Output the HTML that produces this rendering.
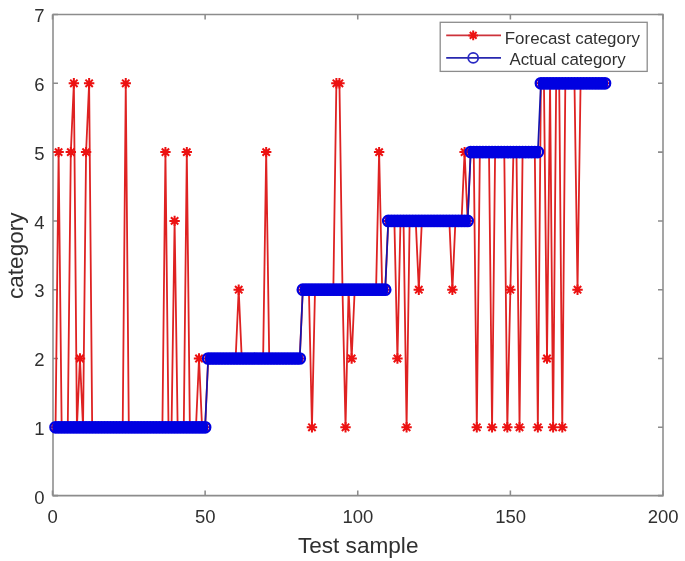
<!DOCTYPE html>
<html><head><meta charset="utf-8"><style>
html,body{margin:0;padding:0;background:#fff;}
svg{display:block;}
text{font-family:"Liberation Sans",sans-serif;fill:#303030;}
</style></head><body>
<svg width="685" height="561" viewBox="0 0 685 561" style="will-change:transform">
<rect width="685" height="561" fill="#fff"/>
<g fill="none" stroke="#8c8c8c" stroke-width="1.55">
<path d="M53.0 14.5H663.0V495.6H53.0Z"/>
<path d="M52.5 495.6V490.6M52.5 14.5V19.5M205.12 495.6V490.6M205.12 14.5V19.5M357.75 495.6V490.6M357.75 14.5V19.5M510.38 495.6V490.6M510.38 14.5V19.5M663 495.6V490.6M663 14.5V19.5M53 495.6H58M663 495.6H658M53 427.3H58M663 427.3H658M53 358.5H58M663 358.5H658M53 289.7H58M663 289.7H658M53 220.9H58M663 220.9H658M53 152.1H58M663 152.1H658M53 83.3H58M663 83.3H658M53 14.5H58M663 14.5H658"/>
</g>
<g font-size="18.5"><text x="52.7" y="523" text-anchor="middle">0</text><text x="205.32" y="523" text-anchor="middle">50</text><text x="357.95" y="523" text-anchor="middle">100</text><text x="510.58" y="523" text-anchor="middle">150</text><text x="663.2" y="523" text-anchor="middle">200</text><text x="44.5" y="504" text-anchor="end">0</text><text x="44.5" y="435" text-anchor="end">1</text><text x="44.5" y="366" text-anchor="end">2</text><text x="44.5" y="297" text-anchor="end">3</text><text x="44.5" y="229" text-anchor="end">4</text><text x="44.5" y="160" text-anchor="end">5</text><text x="44.5" y="91" text-anchor="end">6</text><text x="44.5" y="22" text-anchor="end">7</text></g>
<text x="358.2" y="553.4" font-size="22.6" text-anchor="middle">Test sample</text>
<text transform="translate(23.3 255.7) rotate(-90)" font-size="22.6" text-anchor="middle">category</text>
<polyline points="55.55,427.3 58.61,152.1 61.66,427.3 64.71,427.3 67.76,427.3 70.81,152.1 73.87,83.3 76.92,427.3 79.97,358.5 83.03,427.3 86.08,152.1 89.13,83.3 92.18,427.3 95.23,427.3 98.29,427.3 101.34,427.3 104.39,427.3 107.45,427.3 110.5,427.3 113.55,427.3 116.6,427.3 119.66,427.3 122.71,427.3 125.76,83.3 128.81,427.3 131.87,427.3 134.92,427.3 137.97,427.3 141.02,427.3 144.07,427.3 147.13,427.3 150.18,427.3 153.23,427.3 156.29,427.3 159.34,427.3 162.39,427.3 165.44,152.1 168.5,427.3 171.55,427.3 174.6,220.9 177.65,427.3 180.71,427.3 183.76,427.3 186.81,152.1 189.86,427.3 192.92,427.3 195.97,427.3 199.02,358.5 202.07,427.3 205.12,427.3 208.18,358.5 211.23,358.5 214.28,358.5 217.34,358.5 220.39,358.5 223.44,358.5 226.49,358.5 229.55,358.5 232.6,358.5 235.65,358.5 238.7,289.7 241.76,358.5 244.81,358.5 247.86,358.5 250.91,358.5 253.97,358.5 257.02,358.5 260.07,358.5 263.12,358.5 266.18,152.1 269.23,358.5 272.28,358.5 275.33,358.5 278.38,358.5 281.44,358.5 284.49,358.5 287.54,358.5 290.6,358.5 293.65,358.5 296.7,358.5 299.75,358.5 302.81,289.7 305.86,289.7 308.91,289.7 311.96,427.3 315.02,289.7 318.07,289.7 321.12,289.7 324.17,289.7 327.23,289.7 330.28,289.7 333.33,289.7 336.38,83.3 339.44,83.3 342.49,289.7 345.54,427.3 348.59,289.7 351.65,358.5 354.7,289.7 357.75,289.7 360.8,289.7 363.86,289.7 366.91,289.7 369.96,289.7 373.01,289.7 376.06,289.7 379.12,152.1 382.17,289.7 385.22,289.7 388.28,220.9 391.33,220.9 394.38,220.9 397.43,358.5 400.49,220.9 403.54,220.9 406.59,427.3 409.64,220.9 412.7,220.9 415.75,220.9 418.8,289.7 421.85,220.9 424.91,220.9 427.96,220.9 431.01,220.9 434.06,220.9 437.12,220.9 440.17,220.9 443.22,220.9 446.27,220.9 449.33,220.9 452.38,289.7 455.43,220.9 458.48,220.9 461.54,220.9 464.59,152.1 467.64,220.9 470.69,152.1 473.75,152.1 476.8,427.3 479.85,152.1 482.9,152.1 485.96,152.1 489.01,152.1 492.06,427.3 495.11,152.1 498.17,152.1 501.22,152.1 504.27,152.1 507.32,427.3 510.38,289.7 513.43,152.1 516.48,152.1 519.53,427.3 522.59,152.1 525.64,152.1 528.69,152.1 531.74,152.1 534.8,152.1 537.85,427.3 540.9,83.3 543.95,83.3 547.01,358.5 550.06,83.3 553.11,427.3 556.16,83.3 559.22,83.3 562.27,427.3 565.32,83.3 568.37,83.3 571.43,83.3 574.48,83.3 577.53,289.7 580.58,83.3 583.63,83.3 586.69,83.3 589.74,83.3 592.79,83.3 595.85,83.3 598.9,83.3 601.95,83.3 605,83.3" fill="none" stroke="rgb(222,34,34)" stroke-width="1.8" stroke-linejoin="round"/>
<path d="M50.35 427.3H60.75M55.55 422.1V432.5M51.88 423.62L59.23 430.98M51.88 430.98L59.23 423.62M53.41 152.1H63.81M58.61 146.9V157.3M54.93 148.42L62.28 155.78M54.93 155.78L62.28 148.42M56.46 427.3H66.86M61.66 422.1V432.5M57.98 423.62L65.33 430.98M57.98 430.98L65.33 423.62M59.51 427.3H69.91M64.71 422.1V432.5M61.03 423.62L68.39 430.98M61.03 430.98L68.39 423.62M62.56 427.3H72.96M67.76 422.1V432.5M64.09 423.62L71.44 430.98M64.09 430.98L71.44 423.62M65.61 152.1H76.02M70.81 146.9V157.3M67.14 148.42L74.49 155.78M67.14 155.78L74.49 148.42M68.67 83.3H79.07M73.87 78.1V88.5M70.19 79.62L77.54 86.98M70.19 86.98L77.54 79.62M71.72 427.3H82.12M76.92 422.1V432.5M73.24 423.62L80.6 430.98M73.24 430.98L80.6 423.62M74.77 358.5H85.17M79.97 353.3V363.7M76.3 354.82L83.65 362.18M76.3 362.18L83.65 354.82M77.83 427.3H88.23M83.03 422.1V432.5M79.35 423.62L86.7 430.98M79.35 430.98L86.7 423.62M80.88 152.1H91.28M86.08 146.9V157.3M82.4 148.42L89.75 155.78M82.4 155.78L89.75 148.42M83.93 83.3H94.33M89.13 78.1V88.5M85.45 79.62L92.81 86.98M85.45 86.98L92.81 79.62M86.98 427.3H97.38M92.18 422.1V432.5M88.51 423.62L95.86 430.98M88.51 430.98L95.86 423.62M90.03 427.3H100.44M95.23 422.1V432.5M91.56 423.62L98.91 430.98M91.56 430.98L98.91 423.62M93.09 427.3H103.49M98.29 422.1V432.5M94.61 423.62L101.96 430.98M94.61 430.98L101.96 423.62M96.14 427.3H106.54M101.34 422.1V432.5M97.66 423.62L105.02 430.98M97.66 430.98L105.02 423.62M99.19 427.3H109.59M104.39 422.1V432.5M100.72 423.62L108.07 430.98M100.72 430.98L108.07 423.62M102.25 427.3H112.65M107.45 422.1V432.5M103.77 423.62L111.12 430.98M103.77 430.98L111.12 423.62M105.3 427.3H115.7M110.5 422.1V432.5M106.82 423.62L114.17 430.98M106.82 430.98L114.17 423.62M108.35 427.3H118.75M113.55 422.1V432.5M109.87 423.62L117.23 430.98M109.87 430.98L117.23 423.62M111.4 427.3H121.8M116.6 422.1V432.5M112.93 423.62L120.28 430.98M112.93 430.98L120.28 423.62M114.45 427.3H124.86M119.66 422.1V432.5M115.98 423.62L123.33 430.98M115.98 430.98L123.33 423.62M117.51 427.3H127.91M122.71 422.1V432.5M119.03 423.62L126.38 430.98M119.03 430.98L126.38 423.62M120.56 83.3H130.96M125.76 78.1V88.5M122.08 79.62L129.44 86.98M122.08 86.98L129.44 79.62M123.61 427.3H134.01M128.81 422.1V432.5M125.14 423.62L132.49 430.98M125.14 430.98L132.49 423.62M126.67 427.3H137.06M131.87 422.1V432.5M128.19 423.62L135.54 430.98M128.19 430.98L135.54 423.62M129.72 427.3H140.12M134.92 422.1V432.5M131.24 423.62L138.59 430.98M131.24 430.98L138.59 423.62M132.77 427.3H143.17M137.97 422.1V432.5M134.29 423.62L141.65 430.98M134.29 430.98L141.65 423.62M135.82 427.3H146.22M141.02 422.1V432.5M137.35 423.62L144.7 430.98M137.35 430.98L144.7 423.62M138.88 427.3H149.27M144.07 422.1V432.5M140.4 423.62L147.75 430.98M140.4 430.98L147.75 423.62M141.93 427.3H152.33M147.13 422.1V432.5M143.45 423.62L150.8 430.98M143.45 430.98L150.8 423.62M144.98 427.3H155.38M150.18 422.1V432.5M146.5 423.62L153.86 430.98M146.5 430.98L153.86 423.62M148.03 427.3H158.43M153.23 422.1V432.5M149.56 423.62L156.91 430.98M149.56 430.98L156.91 423.62M151.09 427.3H161.49M156.29 422.1V432.5M152.61 423.62L159.96 430.98M152.61 430.98L159.96 423.62M154.14 427.3H164.54M159.34 422.1V432.5M155.66 423.62L163.01 430.98M155.66 430.98L163.01 423.62M157.19 427.3H167.59M162.39 422.1V432.5M158.71 423.62L166.07 430.98M158.71 430.98L166.07 423.62M160.24 152.1H170.64M165.44 146.9V157.3M161.77 148.42L169.12 155.78M161.77 155.78L169.12 148.42M163.3 427.3H173.69M168.5 422.1V432.5M164.82 423.62L172.17 430.98M164.82 430.98L172.17 423.62M166.35 427.3H176.75M171.55 422.1V432.5M167.87 423.62L175.22 430.98M167.87 430.98L175.22 423.62M169.4 220.9H179.8M174.6 215.7V226.1M170.92 217.22L178.28 224.58M170.92 224.58L178.28 217.22M172.45 427.3H182.85M177.65 422.1V432.5M173.98 423.62L181.33 430.98M173.98 430.98L181.33 423.62M175.51 427.3H185.91M180.71 422.1V432.5M177.03 423.62L184.38 430.98M177.03 430.98L184.38 423.62M178.56 427.3H188.96M183.76 422.1V432.5M180.08 423.62L187.43 430.98M180.08 430.98L187.43 423.62M181.61 152.1H192.01M186.81 146.9V157.3M183.13 148.42L190.49 155.78M183.13 155.78L190.49 148.42M184.66 427.3H195.06M189.86 422.1V432.5M186.19 423.62L193.54 430.98M186.19 430.98L193.54 423.62M187.72 427.3H198.12M192.92 422.1V432.5M189.24 423.62L196.59 430.98M189.24 430.98L196.59 423.62M190.77 427.3H201.17M195.97 422.1V432.5M192.29 423.62L199.64 430.98M192.29 430.98L199.64 423.62M193.82 358.5H204.22M199.02 353.3V363.7M195.34 354.82L202.7 362.18M195.34 362.18L202.7 354.82M196.87 427.3H207.27M202.07 422.1V432.5M198.4 423.62L205.75 430.98M198.4 430.98L205.75 423.62M199.93 427.3H210.32M205.12 422.1V432.5M201.45 423.62L208.8 430.98M201.45 430.98L208.8 423.62M202.98 358.5H213.38M208.18 353.3V363.7M204.5 354.82L211.85 362.18M204.5 362.18L211.85 354.82M206.03 358.5H216.43M211.23 353.3V363.7M207.55 354.82L214.91 362.18M207.55 362.18L214.91 354.82M209.08 358.5H219.48M214.28 353.3V363.7M210.61 354.82L217.96 362.18M210.61 362.18L217.96 354.82M212.14 358.5H222.53M217.34 353.3V363.7M213.66 354.82L221.01 362.18M213.66 362.18L221.01 354.82M215.19 358.5H225.59M220.39 353.3V363.7M216.71 354.82L224.06 362.18M216.71 362.18L224.06 354.82M218.24 358.5H228.64M223.44 353.3V363.7M219.76 354.82L227.12 362.18M219.76 362.18L227.12 354.82M221.29 358.5H231.69M226.49 353.3V363.7M222.82 354.82L230.17 362.18M222.82 362.18L230.17 354.82M224.35 358.5H234.75M229.55 353.3V363.7M225.87 354.82L233.22 362.18M225.87 362.18L233.22 354.82M227.4 358.5H237.8M232.6 353.3V363.7M228.92 354.82L236.27 362.18M228.92 362.18L236.27 354.82M230.45 358.5H240.85M235.65 353.3V363.7M231.97 354.82L239.33 362.18M231.97 362.18L239.33 354.82M233.5 289.7H243.9M238.7 284.5V294.9M235.03 286.02L242.38 293.38M235.03 293.38L242.38 286.02M236.56 358.5H246.96M241.76 353.3V363.7M238.08 354.82L245.43 362.18M238.08 362.18L245.43 354.82M239.61 358.5H250.01M244.81 353.3V363.7M241.13 354.82L248.48 362.18M241.13 362.18L248.48 354.82M242.66 358.5H253.06M247.86 353.3V363.7M244.18 354.82L251.54 362.18M244.18 362.18L251.54 354.82M245.71 358.5H256.11M250.91 353.3V363.7M247.24 354.82L254.59 362.18M247.24 362.18L254.59 354.82M248.77 358.5H259.17M253.97 353.3V363.7M250.29 354.82L257.64 362.18M250.29 362.18L257.64 354.82M251.82 358.5H262.22M257.02 353.3V363.7M253.34 354.82L260.69 362.18M253.34 362.18L260.69 354.82M254.87 358.5H265.27M260.07 353.3V363.7M256.39 354.82L263.75 362.18M256.39 362.18L263.75 354.82M257.92 358.5H268.32M263.12 353.3V363.7M259.45 354.82L266.8 362.18M259.45 362.18L266.8 354.82M260.98 152.1H271.38M266.18 146.9V157.3M262.5 148.42L269.85 155.78M262.5 155.78L269.85 148.42M264.03 358.5H274.43M269.23 353.3V363.7M265.55 354.82L272.9 362.18M265.55 362.18L272.9 354.82M267.08 358.5H277.48M272.28 353.3V363.7M268.6 354.82L275.96 362.18M268.6 362.18L275.96 354.82M270.13 358.5H280.53M275.33 353.3V363.7M271.66 354.82L279.01 362.18M271.66 362.18L279.01 354.82M273.19 358.5H283.58M278.38 353.3V363.7M274.71 354.82L282.06 362.18M274.71 362.18L282.06 354.82M276.24 358.5H286.64M281.44 353.3V363.7M277.76 354.82L285.11 362.18M277.76 362.18L285.11 354.82M279.29 358.5H289.69M284.49 353.3V363.7M280.81 354.82L288.17 362.18M280.81 362.18L288.17 354.82M282.34 358.5H292.74M287.54 353.3V363.7M283.87 354.82L291.22 362.18M283.87 362.18L291.22 354.82M285.4 358.5H295.8M290.6 353.3V363.7M286.92 354.82L294.27 362.18M286.92 362.18L294.27 354.82M288.45 358.5H298.85M293.65 353.3V363.7M289.97 354.82L297.32 362.18M289.97 362.18L297.32 354.82M291.5 358.5H301.9M296.7 353.3V363.7M293.02 354.82L300.38 362.18M293.02 362.18L300.38 354.82M294.55 358.5H304.95M299.75 353.3V363.7M296.08 354.82L303.43 362.18M296.08 362.18L303.43 354.82M297.61 289.7H308M302.81 284.5V294.9M299.13 286.02L306.48 293.38M299.13 293.38L306.48 286.02M300.66 289.7H311.06M305.86 284.5V294.9M302.18 286.02L309.53 293.38M302.18 293.38L309.53 286.02M303.71 289.7H314.11M308.91 284.5V294.9M305.23 286.02L312.59 293.38M305.23 293.38L312.59 286.02M306.76 427.3H317.16M311.96 422.1V432.5M308.29 423.62L315.64 430.98M308.29 430.98L315.64 423.62M309.82 289.7H320.22M315.02 284.5V294.9M311.34 286.02L318.69 293.38M311.34 293.38L318.69 286.02M312.87 289.7H323.27M318.07 284.5V294.9M314.39 286.02L321.74 293.38M314.39 293.38L321.74 286.02M315.92 289.7H326.32M321.12 284.5V294.9M317.44 286.02L324.8 293.38M317.44 293.38L324.8 286.02M318.97 289.7H329.37M324.17 284.5V294.9M320.5 286.02L327.85 293.38M320.5 293.38L327.85 286.02M322.03 289.7H332.43M327.23 284.5V294.9M323.55 286.02L330.9 293.38M323.55 293.38L330.9 286.02M325.08 289.7H335.48M330.28 284.5V294.9M326.6 286.02L333.95 293.38M326.6 293.38L333.95 286.02M328.13 289.7H338.53M333.33 284.5V294.9M329.65 286.02L337.01 293.38M329.65 293.38L337.01 286.02M331.18 83.3H341.58M336.38 78.1V88.5M332.71 79.62L340.06 86.98M332.71 86.98L340.06 79.62M334.24 83.3H344.63M339.44 78.1V88.5M335.76 79.62L343.11 86.98M335.76 86.98L343.11 79.62M337.29 289.7H347.69M342.49 284.5V294.9M338.81 286.02L346.16 293.38M338.81 293.38L346.16 286.02M340.34 427.3H350.74M345.54 422.1V432.5M341.86 423.62L349.22 430.98M341.86 430.98L349.22 423.62M343.39 289.7H353.79M348.59 284.5V294.9M344.92 286.02L352.27 293.38M344.92 293.38L352.27 286.02M346.45 358.5H356.85M351.65 353.3V363.7M347.97 354.82L355.32 362.18M347.97 362.18L355.32 354.82M349.5 289.7H359.9M354.7 284.5V294.9M351.02 286.02L358.37 293.38M351.02 293.38L358.37 286.02M352.55 289.7H362.95M357.75 284.5V294.9M354.07 286.02L361.43 293.38M354.07 293.38L361.43 286.02M355.6 289.7H366M360.8 284.5V294.9M357.13 286.02L364.48 293.38M357.13 293.38L364.48 286.02M358.66 289.7H369.06M363.86 284.5V294.9M360.18 286.02L367.53 293.38M360.18 293.38L367.53 286.02M361.71 289.7H372.11M366.91 284.5V294.9M363.23 286.02L370.58 293.38M363.23 293.38L370.58 286.02M364.76 289.7H375.16M369.96 284.5V294.9M366.28 286.02L373.64 293.38M366.28 293.38L373.64 286.02M367.81 289.7H378.21M373.01 284.5V294.9M369.34 286.02L376.69 293.38M369.34 293.38L376.69 286.02M370.87 289.7H381.26M376.06 284.5V294.9M372.39 286.02L379.74 293.38M372.39 293.38L379.74 286.02M373.92 152.1H384.32M379.12 146.9V157.3M375.44 148.42L382.79 155.78M375.44 155.78L382.79 148.42M376.97 289.7H387.37M382.17 284.5V294.9M378.49 286.02L385.85 293.38M378.49 293.38L385.85 286.02M380.02 289.7H390.42M385.22 284.5V294.9M381.55 286.02L388.9 293.38M381.55 293.38L388.9 286.02M383.08 220.9H393.48M388.28 215.7V226.1M384.6 217.22L391.95 224.58M384.6 224.58L391.95 217.22M386.13 220.9H396.53M391.33 215.7V226.1M387.65 217.22L395 224.58M387.65 224.58L395 217.22M389.18 220.9H399.58M394.38 215.7V226.1M390.7 217.22L398.06 224.58M390.7 224.58L398.06 217.22M392.23 358.5H402.63M397.43 353.3V363.7M393.76 354.82L401.11 362.18M393.76 362.18L401.11 354.82M395.29 220.9H405.69M400.49 215.7V226.1M396.81 217.22L404.16 224.58M396.81 224.58L404.16 217.22M398.34 220.9H408.74M403.54 215.7V226.1M399.86 217.22L407.21 224.58M399.86 224.58L407.21 217.22M401.39 427.3H411.79M406.59 422.1V432.5M402.91 423.62L410.27 430.98M402.91 430.98L410.27 423.62M404.44 220.9H414.84M409.64 215.7V226.1M405.97 217.22L413.32 224.58M405.97 224.58L413.32 217.22M407.5 220.9H417.9M412.7 215.7V226.1M409.02 217.22L416.37 224.58M409.02 224.58L416.37 217.22M410.55 220.9H420.95M415.75 215.7V226.1M412.07 217.22L419.42 224.58M412.07 224.58L419.42 217.22M413.6 289.7H424M418.8 284.5V294.9M415.12 286.02L422.48 293.38M415.12 293.38L422.48 286.02M416.65 220.9H427.05M421.85 215.7V226.1M418.18 217.22L425.53 224.58M418.18 224.58L425.53 217.22M419.71 220.9H430.11M424.91 215.7V226.1M421.23 217.22L428.58 224.58M421.23 224.58L428.58 217.22M422.76 220.9H433.16M427.96 215.7V226.1M424.28 217.22L431.63 224.58M424.28 224.58L431.63 217.22M425.81 220.9H436.21M431.01 215.7V226.1M427.33 217.22L434.69 224.58M427.33 224.58L434.69 217.22M428.86 220.9H439.26M434.06 215.7V226.1M430.39 217.22L437.74 224.58M430.39 224.58L437.74 217.22M431.92 220.9H442.31M437.12 215.7V226.1M433.44 217.22L440.79 224.58M433.44 224.58L440.79 217.22M434.97 220.9H445.37M440.17 215.7V226.1M436.49 217.22L443.84 224.58M436.49 224.58L443.84 217.22M438.02 220.9H448.42M443.22 215.7V226.1M439.54 217.22L446.9 224.58M439.54 224.58L446.9 217.22M441.07 220.9H451.47M446.27 215.7V226.1M442.6 217.22L449.95 224.58M442.6 224.58L449.95 217.22M444.13 220.9H454.53M449.33 215.7V226.1M445.65 217.22L453 224.58M445.65 224.58L453 217.22M447.18 289.7H457.58M452.38 284.5V294.9M448.7 286.02L456.05 293.38M448.7 293.38L456.05 286.02M450.23 220.9H460.63M455.43 215.7V226.1M451.75 217.22L459.11 224.58M451.75 224.58L459.11 217.22M453.28 220.9H463.68M458.48 215.7V226.1M454.81 217.22L462.16 224.58M454.81 224.58L462.16 217.22M456.34 220.9H466.74M461.54 215.7V226.1M457.86 217.22L465.21 224.58M457.86 224.58L465.21 217.22M459.39 152.1H469.79M464.59 146.9V157.3M460.91 148.42L468.26 155.78M460.91 155.78L468.26 148.42M462.44 220.9H472.84M467.64 215.7V226.1M463.96 217.22L471.32 224.58M463.96 224.58L471.32 217.22M465.49 152.1H475.89M470.69 146.9V157.3M467.02 148.42L474.37 155.78M467.02 155.78L474.37 148.42M468.55 152.1H478.94M473.75 146.9V157.3M470.07 148.42L477.42 155.78M470.07 155.78L477.42 148.42M471.6 427.3H482M476.8 422.1V432.5M473.12 423.62L480.47 430.98M473.12 430.98L480.47 423.62M474.65 152.1H485.05M479.85 146.9V157.3M476.17 148.42L483.53 155.78M476.17 155.78L483.53 148.42M477.7 152.1H488.1M482.9 146.9V157.3M479.23 148.42L486.58 155.78M479.23 155.78L486.58 148.42M480.76 152.1H491.16M485.96 146.9V157.3M482.28 148.42L489.63 155.78M482.28 155.78L489.63 148.42M483.81 152.1H494.21M489.01 146.9V157.3M485.33 148.42L492.68 155.78M485.33 155.78L492.68 148.42M486.86 427.3H497.26M492.06 422.1V432.5M488.38 423.62L495.74 430.98M488.38 430.98L495.74 423.62M489.91 152.1H500.31M495.11 146.9V157.3M491.44 148.42L498.79 155.78M491.44 155.78L498.79 148.42M492.97 152.1H503.37M498.17 146.9V157.3M494.49 148.42L501.84 155.78M494.49 155.78L501.84 148.42M496.02 152.1H506.42M501.22 146.9V157.3M497.54 148.42L504.89 155.78M497.54 155.78L504.89 148.42M499.07 152.1H509.47M504.27 146.9V157.3M500.59 148.42L507.95 155.78M500.59 155.78L507.95 148.42M502.12 427.3H512.52M507.32 422.1V432.5M503.65 423.62L511 430.98M503.65 430.98L511 423.62M505.18 289.7H515.58M510.38 284.5V294.9M506.7 286.02L514.05 293.38M506.7 293.38L514.05 286.02M508.23 152.1H518.63M513.43 146.9V157.3M509.75 148.42L517.1 155.78M509.75 155.78L517.1 148.42M511.28 152.1H521.68M516.48 146.9V157.3M512.8 148.42L520.16 155.78M512.8 155.78L520.16 148.42M514.33 427.3H524.73M519.53 422.1V432.5M515.86 423.62L523.21 430.98M515.86 430.98L523.21 423.62M517.38 152.1H527.79M522.59 146.9V157.3M518.91 148.42L526.26 155.78M518.91 155.78L526.26 148.42M520.44 152.1H530.84M525.64 146.9V157.3M521.96 148.42L529.31 155.78M521.96 155.78L529.31 148.42M523.49 152.1H533.89M528.69 146.9V157.3M525.01 148.42L532.37 155.78M525.01 155.78L532.37 148.42M526.54 152.1H536.94M531.74 146.9V157.3M528.07 148.42L535.42 155.78M528.07 155.78L535.42 148.42M529.6 152.1H540M534.8 146.9V157.3M531.12 148.42L538.47 155.78M531.12 155.78L538.47 148.42M532.65 427.3H543.05M537.85 422.1V432.5M534.17 423.62L541.52 430.98M534.17 430.98L541.52 423.62M535.7 83.3H546.1M540.9 78.1V88.5M537.22 79.62L544.58 86.98M537.22 86.98L544.58 79.62M538.75 83.3H549.15M543.95 78.1V88.5M540.28 79.62L547.63 86.98M540.28 86.98L547.63 79.62M541.81 358.5H552.21M547.01 353.3V363.7M543.33 354.82L550.68 362.18M543.33 362.18L550.68 354.82M544.86 83.3H555.26M550.06 78.1V88.5M546.38 79.62L553.73 86.98M546.38 86.98L553.73 79.62M547.91 427.3H558.31M553.11 422.1V432.5M549.43 423.62L556.79 430.98M549.43 430.98L556.79 423.62M550.96 83.3H561.36M556.16 78.1V88.5M552.49 79.62L559.84 86.98M552.49 86.98L559.84 79.62M554.01 83.3H564.42M559.22 78.1V88.5M555.54 79.62L562.89 86.98M555.54 86.98L562.89 79.62M557.07 427.3H567.47M562.27 422.1V432.5M558.59 423.62L565.94 430.98M558.59 430.98L565.94 423.62M560.12 83.3H570.52M565.32 78.1V88.5M561.64 79.62L569 86.98M561.64 86.98L569 79.62M563.17 83.3H573.57M568.37 78.1V88.5M564.7 79.62L572.05 86.98M564.7 86.98L572.05 79.62M566.23 83.3H576.63M571.43 78.1V88.5M567.75 79.62L575.1 86.98M567.75 86.98L575.1 79.62M569.28 83.3H579.68M574.48 78.1V88.5M570.8 79.62L578.15 86.98M570.8 86.98L578.15 79.62M572.33 289.7H582.73M577.53 284.5V294.9M573.85 286.02L581.21 293.38M573.85 293.38L581.21 286.02M575.38 83.3H585.78M580.58 78.1V88.5M576.91 79.62L584.26 86.98M576.91 86.98L584.26 79.62M578.43 83.3H588.84M583.63 78.1V88.5M579.96 79.62L587.31 86.98M579.96 86.98L587.31 79.62M581.49 83.3H591.89M586.69 78.1V88.5M583.01 79.62L590.36 86.98M583.01 86.98L590.36 79.62M584.54 83.3H594.94M589.74 78.1V88.5M586.06 79.62L593.42 86.98M586.06 86.98L593.42 79.62M587.59 83.3H597.99M592.79 78.1V88.5M589.12 79.62L596.47 86.98M589.12 86.98L596.47 79.62M590.64 83.3H601.05M595.85 78.1V88.5M592.17 79.62L599.52 86.98M592.17 86.98L599.52 79.62M593.7 83.3H604.1M598.9 78.1V88.5M595.22 79.62L602.57 86.98M595.22 86.98L602.57 79.62M596.75 83.3H607.15M601.95 78.1V88.5M598.27 79.62L605.63 86.98M598.27 86.98L605.63 79.62M599.8 83.3H610.2M605 78.1V88.5M601.33 79.62L608.68 86.98M601.33 86.98L608.68 79.62" fill="none" stroke="rgb(236,18,18)" stroke-width="2.0"/>
<polyline points="55.55,427.3 58.61,427.3 61.66,427.3 64.71,427.3 67.76,427.3 70.81,427.3 73.87,427.3 76.92,427.3 79.97,427.3 83.03,427.3 86.08,427.3 89.13,427.3 92.18,427.3 95.23,427.3 98.29,427.3 101.34,427.3 104.39,427.3 107.45,427.3 110.5,427.3 113.55,427.3 116.6,427.3 119.66,427.3 122.71,427.3 125.76,427.3 128.81,427.3 131.87,427.3 134.92,427.3 137.97,427.3 141.02,427.3 144.07,427.3 147.13,427.3 150.18,427.3 153.23,427.3 156.29,427.3 159.34,427.3 162.39,427.3 165.44,427.3 168.5,427.3 171.55,427.3 174.6,427.3 177.65,427.3 180.71,427.3 183.76,427.3 186.81,427.3 189.86,427.3 192.92,427.3 195.97,427.3 199.02,427.3 202.07,427.3 205.12,427.3 208.18,358.5 211.23,358.5 214.28,358.5 217.34,358.5 220.39,358.5 223.44,358.5 226.49,358.5 229.55,358.5 232.6,358.5 235.65,358.5 238.7,358.5 241.76,358.5 244.81,358.5 247.86,358.5 250.91,358.5 253.97,358.5 257.02,358.5 260.07,358.5 263.12,358.5 266.18,358.5 269.23,358.5 272.28,358.5 275.33,358.5 278.38,358.5 281.44,358.5 284.49,358.5 287.54,358.5 290.6,358.5 293.65,358.5 296.7,358.5 299.75,358.5 302.81,289.7 305.86,289.7 308.91,289.7 311.96,289.7 315.02,289.7 318.07,289.7 321.12,289.7 324.17,289.7 327.23,289.7 330.28,289.7 333.33,289.7 336.38,289.7 339.44,289.7 342.49,289.7 345.54,289.7 348.59,289.7 351.65,289.7 354.7,289.7 357.75,289.7 360.8,289.7 363.86,289.7 366.91,289.7 369.96,289.7 373.01,289.7 376.06,289.7 379.12,289.7 382.17,289.7 385.22,289.7 388.28,220.9 391.33,220.9 394.38,220.9 397.43,220.9 400.49,220.9 403.54,220.9 406.59,220.9 409.64,220.9 412.7,220.9 415.75,220.9 418.8,220.9 421.85,220.9 424.91,220.9 427.96,220.9 431.01,220.9 434.06,220.9 437.12,220.9 440.17,220.9 443.22,220.9 446.27,220.9 449.33,220.9 452.38,220.9 455.43,220.9 458.48,220.9 461.54,220.9 464.59,220.9 467.64,220.9 470.69,152.1 473.75,152.1 476.8,152.1 479.85,152.1 482.9,152.1 485.96,152.1 489.01,152.1 492.06,152.1 495.11,152.1 498.17,152.1 501.22,152.1 504.27,152.1 507.32,152.1 510.38,152.1 513.43,152.1 516.48,152.1 519.53,152.1 522.59,152.1 525.64,152.1 528.69,152.1 531.74,152.1 534.8,152.1 537.85,152.1 540.9,83.3 543.95,83.3 547.01,83.3 550.06,83.3 553.11,83.3 556.16,83.3 559.22,83.3 562.27,83.3 565.32,83.3 568.37,83.3 571.43,83.3 574.48,83.3 577.53,83.3 580.58,83.3 583.63,83.3 586.69,83.3 589.74,83.3 592.79,83.3 595.85,83.3 598.9,83.3 601.95,83.3 605,83.3" fill="none" stroke="rgb(20,20,175)" stroke-width="1.7" stroke-linejoin="round"/>
<path d="M53.55 427.3H207.12M206.18 358.5H301.75M300.81 289.7H387.22M386.28 220.9H469.64M468.69 152.1H539.85M538.9 83.3H607" stroke="rgb(0,0,225)" stroke-width="10"/>
<g fill="none" stroke="rgb(0,0,225)" stroke-width="2.3"><circle cx="55.55" cy="427.3" r="5.2"/><circle cx="58.61" cy="427.3" r="5.2"/><circle cx="61.66" cy="427.3" r="5.2"/><circle cx="64.71" cy="427.3" r="5.2"/><circle cx="67.76" cy="427.3" r="5.2"/><circle cx="70.81" cy="427.3" r="5.2"/><circle cx="73.87" cy="427.3" r="5.2"/><circle cx="76.92" cy="427.3" r="5.2"/><circle cx="79.97" cy="427.3" r="5.2"/><circle cx="83.03" cy="427.3" r="5.2"/><circle cx="86.08" cy="427.3" r="5.2"/><circle cx="89.13" cy="427.3" r="5.2"/><circle cx="92.18" cy="427.3" r="5.2"/><circle cx="95.23" cy="427.3" r="5.2"/><circle cx="98.29" cy="427.3" r="5.2"/><circle cx="101.34" cy="427.3" r="5.2"/><circle cx="104.39" cy="427.3" r="5.2"/><circle cx="107.45" cy="427.3" r="5.2"/><circle cx="110.5" cy="427.3" r="5.2"/><circle cx="113.55" cy="427.3" r="5.2"/><circle cx="116.6" cy="427.3" r="5.2"/><circle cx="119.66" cy="427.3" r="5.2"/><circle cx="122.71" cy="427.3" r="5.2"/><circle cx="125.76" cy="427.3" r="5.2"/><circle cx="128.81" cy="427.3" r="5.2"/><circle cx="131.87" cy="427.3" r="5.2"/><circle cx="134.92" cy="427.3" r="5.2"/><circle cx="137.97" cy="427.3" r="5.2"/><circle cx="141.02" cy="427.3" r="5.2"/><circle cx="144.07" cy="427.3" r="5.2"/><circle cx="147.13" cy="427.3" r="5.2"/><circle cx="150.18" cy="427.3" r="5.2"/><circle cx="153.23" cy="427.3" r="5.2"/><circle cx="156.29" cy="427.3" r="5.2"/><circle cx="159.34" cy="427.3" r="5.2"/><circle cx="162.39" cy="427.3" r="5.2"/><circle cx="165.44" cy="427.3" r="5.2"/><circle cx="168.5" cy="427.3" r="5.2"/><circle cx="171.55" cy="427.3" r="5.2"/><circle cx="174.6" cy="427.3" r="5.2"/><circle cx="177.65" cy="427.3" r="5.2"/><circle cx="180.71" cy="427.3" r="5.2"/><circle cx="183.76" cy="427.3" r="5.2"/><circle cx="186.81" cy="427.3" r="5.2"/><circle cx="189.86" cy="427.3" r="5.2"/><circle cx="192.92" cy="427.3" r="5.2"/><circle cx="195.97" cy="427.3" r="5.2"/><circle cx="199.02" cy="427.3" r="5.2"/><circle cx="202.07" cy="427.3" r="5.2"/><circle cx="205.12" cy="427.3" r="5.2"/><circle cx="208.18" cy="358.5" r="5.2"/><circle cx="211.23" cy="358.5" r="5.2"/><circle cx="214.28" cy="358.5" r="5.2"/><circle cx="217.34" cy="358.5" r="5.2"/><circle cx="220.39" cy="358.5" r="5.2"/><circle cx="223.44" cy="358.5" r="5.2"/><circle cx="226.49" cy="358.5" r="5.2"/><circle cx="229.55" cy="358.5" r="5.2"/><circle cx="232.6" cy="358.5" r="5.2"/><circle cx="235.65" cy="358.5" r="5.2"/><circle cx="238.7" cy="358.5" r="5.2"/><circle cx="241.76" cy="358.5" r="5.2"/><circle cx="244.81" cy="358.5" r="5.2"/><circle cx="247.86" cy="358.5" r="5.2"/><circle cx="250.91" cy="358.5" r="5.2"/><circle cx="253.97" cy="358.5" r="5.2"/><circle cx="257.02" cy="358.5" r="5.2"/><circle cx="260.07" cy="358.5" r="5.2"/><circle cx="263.12" cy="358.5" r="5.2"/><circle cx="266.18" cy="358.5" r="5.2"/><circle cx="269.23" cy="358.5" r="5.2"/><circle cx="272.28" cy="358.5" r="5.2"/><circle cx="275.33" cy="358.5" r="5.2"/><circle cx="278.38" cy="358.5" r="5.2"/><circle cx="281.44" cy="358.5" r="5.2"/><circle cx="284.49" cy="358.5" r="5.2"/><circle cx="287.54" cy="358.5" r="5.2"/><circle cx="290.6" cy="358.5" r="5.2"/><circle cx="293.65" cy="358.5" r="5.2"/><circle cx="296.7" cy="358.5" r="5.2"/><circle cx="299.75" cy="358.5" r="5.2"/><circle cx="302.81" cy="289.7" r="5.2"/><circle cx="305.86" cy="289.7" r="5.2"/><circle cx="308.91" cy="289.7" r="5.2"/><circle cx="311.96" cy="289.7" r="5.2"/><circle cx="315.02" cy="289.7" r="5.2"/><circle cx="318.07" cy="289.7" r="5.2"/><circle cx="321.12" cy="289.7" r="5.2"/><circle cx="324.17" cy="289.7" r="5.2"/><circle cx="327.23" cy="289.7" r="5.2"/><circle cx="330.28" cy="289.7" r="5.2"/><circle cx="333.33" cy="289.7" r="5.2"/><circle cx="336.38" cy="289.7" r="5.2"/><circle cx="339.44" cy="289.7" r="5.2"/><circle cx="342.49" cy="289.7" r="5.2"/><circle cx="345.54" cy="289.7" r="5.2"/><circle cx="348.59" cy="289.7" r="5.2"/><circle cx="351.65" cy="289.7" r="5.2"/><circle cx="354.7" cy="289.7" r="5.2"/><circle cx="357.75" cy="289.7" r="5.2"/><circle cx="360.8" cy="289.7" r="5.2"/><circle cx="363.86" cy="289.7" r="5.2"/><circle cx="366.91" cy="289.7" r="5.2"/><circle cx="369.96" cy="289.7" r="5.2"/><circle cx="373.01" cy="289.7" r="5.2"/><circle cx="376.06" cy="289.7" r="5.2"/><circle cx="379.12" cy="289.7" r="5.2"/><circle cx="382.17" cy="289.7" r="5.2"/><circle cx="385.22" cy="289.7" r="5.2"/><circle cx="388.28" cy="220.9" r="5.2"/><circle cx="391.33" cy="220.9" r="5.2"/><circle cx="394.38" cy="220.9" r="5.2"/><circle cx="397.43" cy="220.9" r="5.2"/><circle cx="400.49" cy="220.9" r="5.2"/><circle cx="403.54" cy="220.9" r="5.2"/><circle cx="406.59" cy="220.9" r="5.2"/><circle cx="409.64" cy="220.9" r="5.2"/><circle cx="412.7" cy="220.9" r="5.2"/><circle cx="415.75" cy="220.9" r="5.2"/><circle cx="418.8" cy="220.9" r="5.2"/><circle cx="421.85" cy="220.9" r="5.2"/><circle cx="424.91" cy="220.9" r="5.2"/><circle cx="427.96" cy="220.9" r="5.2"/><circle cx="431.01" cy="220.9" r="5.2"/><circle cx="434.06" cy="220.9" r="5.2"/><circle cx="437.12" cy="220.9" r="5.2"/><circle cx="440.17" cy="220.9" r="5.2"/><circle cx="443.22" cy="220.9" r="5.2"/><circle cx="446.27" cy="220.9" r="5.2"/><circle cx="449.33" cy="220.9" r="5.2"/><circle cx="452.38" cy="220.9" r="5.2"/><circle cx="455.43" cy="220.9" r="5.2"/><circle cx="458.48" cy="220.9" r="5.2"/><circle cx="461.54" cy="220.9" r="5.2"/><circle cx="464.59" cy="220.9" r="5.2"/><circle cx="467.64" cy="220.9" r="5.2"/><circle cx="470.69" cy="152.1" r="5.2"/><circle cx="473.75" cy="152.1" r="5.2"/><circle cx="476.8" cy="152.1" r="5.2"/><circle cx="479.85" cy="152.1" r="5.2"/><circle cx="482.9" cy="152.1" r="5.2"/><circle cx="485.96" cy="152.1" r="5.2"/><circle cx="489.01" cy="152.1" r="5.2"/><circle cx="492.06" cy="152.1" r="5.2"/><circle cx="495.11" cy="152.1" r="5.2"/><circle cx="498.17" cy="152.1" r="5.2"/><circle cx="501.22" cy="152.1" r="5.2"/><circle cx="504.27" cy="152.1" r="5.2"/><circle cx="507.32" cy="152.1" r="5.2"/><circle cx="510.38" cy="152.1" r="5.2"/><circle cx="513.43" cy="152.1" r="5.2"/><circle cx="516.48" cy="152.1" r="5.2"/><circle cx="519.53" cy="152.1" r="5.2"/><circle cx="522.59" cy="152.1" r="5.2"/><circle cx="525.64" cy="152.1" r="5.2"/><circle cx="528.69" cy="152.1" r="5.2"/><circle cx="531.74" cy="152.1" r="5.2"/><circle cx="534.8" cy="152.1" r="5.2"/><circle cx="537.85" cy="152.1" r="5.2"/><circle cx="540.9" cy="83.3" r="5.2"/><circle cx="543.95" cy="83.3" r="5.2"/><circle cx="547.01" cy="83.3" r="5.2"/><circle cx="550.06" cy="83.3" r="5.2"/><circle cx="553.11" cy="83.3" r="5.2"/><circle cx="556.16" cy="83.3" r="5.2"/><circle cx="559.22" cy="83.3" r="5.2"/><circle cx="562.27" cy="83.3" r="5.2"/><circle cx="565.32" cy="83.3" r="5.2"/><circle cx="568.37" cy="83.3" r="5.2"/><circle cx="571.43" cy="83.3" r="5.2"/><circle cx="574.48" cy="83.3" r="5.2"/><circle cx="577.53" cy="83.3" r="5.2"/><circle cx="580.58" cy="83.3" r="5.2"/><circle cx="583.63" cy="83.3" r="5.2"/><circle cx="586.69" cy="83.3" r="5.2"/><circle cx="589.74" cy="83.3" r="5.2"/><circle cx="592.79" cy="83.3" r="5.2"/><circle cx="595.85" cy="83.3" r="5.2"/><circle cx="598.9" cy="83.3" r="5.2"/><circle cx="601.95" cy="83.3" r="5.2"/><circle cx="605" cy="83.3" r="5.2"/></g>
<rect x="440.2" y="22.3" width="207" height="49.1" fill="#fff" stroke="#8c8c8c" stroke-width="1.3"/>
<path d="M446.2 35.4H501" stroke="rgb(205,50,58)" stroke-width="1.8"/>
<path d="M468.4 35.4H478M473.2 30.6V40.2M469.81 32.01L476.59 38.79M469.81 38.79L476.59 32.01" fill="none" stroke="rgb(236,18,18)" stroke-width="2.0"/>
<path d="M446.2 57.9H501" stroke="rgb(40,40,175)" stroke-width="1.8"/>
<circle cx="473.2" cy="57.9" r="5" fill="none" stroke="rgb(40,40,195)" stroke-width="1.8"/>
<text x="504.8" y="44" font-size="16.9">Forecast category</text>
<text x="509.4" y="65" font-size="16.9">Actual category</text>
</svg>
</body></html>
